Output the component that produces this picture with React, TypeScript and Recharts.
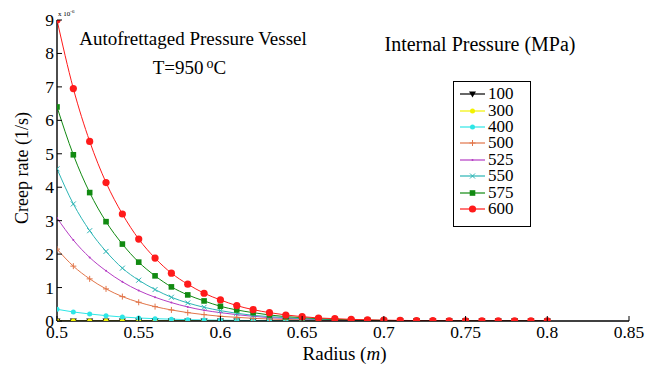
import React from "react";
import { Legend, Line, LineChart, XAxis, YAxis } from "recharts";

const FONT = "'Liberation Serif', 'Times New Roman', serif";

// radius (m), one point every 0.01
const radius = [
  0.5, 0.51, 0.52, 0.53, 0.54, 0.55, 0.56, 0.57, 0.58, 0.59, 0.6, 0.61, 0.62, 0.63, 0.64, 0.65,
  0.66, 0.67, 0.68, 0.69, 0.7, 0.71, 0.72, 0.73, 0.74, 0.75, 0.76, 0.77, 0.78, 0.79, 0.8,
];

// creep rate in units of 1e-6 1/s, per internal pressure (MPa)
const p100 = [
  0, 0, 0, 0, 0, 0, 0, 0, 0, 0, 0, 0, 0, 0, 0, 0, 0, 0, 0, 0, 0, 0, 0, 0, 0, 0, 0, 0, 0, 0, 0,
];
const p300 = [
  0, 0, 0, 0, 0, 0, 0, 0, 0, 0, 0, 0, 0, 0, 0, 0, 0, 0, 0, 0, 0, 0, 0, 0, 0, 0, 0, 0, 0, 0, 0,
];
const p400 = [
  0.35, 0.27, 0.21, 0.16, 0.12, 0.09, 0.07, 0.055, 0.04, 0.03, 0.025, 0.018, 0.014, 0.01, 0.008,
  0.006, 0.005, 0.004, 0.003, 0.002, 0.0015, 0.001, 0.0008, 0.0006, 0.0005, 0.0004, 0.0003,
  0.0002, 0.0002, 0.0001, 0.0001,
];
const p500 = [
  2.15, 1.64, 1.26, 0.96, 0.73, 0.56, 0.43, 0.33, 0.25, 0.19, 0.14, 0.11, 0.08, 0.06, 0.045,
  0.035, 0.025, 0.018, 0.013, 0.01, 0.007, 0.005, 0.004, 0.003, 0.002, 0.0015, 0.001, 0.0008,
  0.0006, 0.0004, 0.0003,
];
const p525 = [
  3.08, 2.42, 1.9, 1.5, 1.17, 0.91, 0.71, 0.55, 0.42, 0.32, 0.25, 0.19, 0.14, 0.1, 0.08, 0.06,
  0.04, 0.03, 0.02, 0.015, 0.01, 0.007, 0.005, 0.004, 0.003, 0.002, 0.0015, 0.001, 0.0008,
  0.0005, 0.0003,
];
const p550 = [
  4.55, 3.5, 2.7, 2.08, 1.58, 1.22, 0.94, 0.71, 0.54, 0.41, 0.31, 0.23, 0.17, 0.13, 0.1, 0.07,
  0.05, 0.04, 0.03, 0.02, 0.015, 0.01, 0.007, 0.005, 0.004, 0.003, 0.002, 0.0015, 0.001, 0.0008,
  0.0005,
];
const p575 = [
  6.4, 4.97, 3.84, 2.97, 2.3, 1.76, 1.35, 1.02, 0.78, 0.6, 0.44, 0.33, 0.25, 0.18, 0.13, 0.1,
  0.07, 0.05, 0.035, 0.025, 0.018, 0.013, 0.009, 0.006, 0.004, 0.003, 0.002, 0.0015, 0.001,
  0.0008, 0.0005,
];
const p600 = [
  9.0, 6.95, 5.37, 4.14, 3.2, 2.45, 1.88, 1.43, 1.1, 0.83, 0.63, 0.46, 0.34, 0.25, 0.18, 0.13,
  0.09, 0.07, 0.05, 0.035, 0.025, 0.018, 0.013, 0.009, 0.007, 0.005, 0.004, 0.003, 0.002,
  0.0015, 0.001,
];

const xTicks = [0.5, 0.55, 0.6, 0.65, 0.7, 0.75, 0.8, 0.85];
const yTicks = [0, 1, 2, 3, 4, 5, 6, 7, 8, 9];

type Shape = "triangle" | "dot" | "plus" | "point" | "cross" | "square" | "circle";

const series: { key: string; name: string; values: number[]; color: string; shape: Shape }[] = [
  { key: "p100", name: "100", values: p100, color: "#000000", shape: "triangle" },
  { key: "p300", name: "300", values: p300, color: "#f2f200", shape: "dot" },
  { key: "p400", name: "400", values: p400, color: "#2ee6e6", shape: "dot" },
  { key: "p500", name: "500", values: p500, color: "#e2764a", shape: "plus" },
  { key: "p525", name: "525", values: p525, color: "#b53dc4", shape: "point" },
  { key: "p550", name: "550", values: p550, color: "#2bb5b5", shape: "cross" },
  { key: "p575", name: "575", values: p575, color: "#118a11", shape: "square" },
  { key: "p600", name: "600", values: p600, color: "#ff1a1a", shape: "circle" },
];

const data = radius.map((r, i) => {
  const row: Record<string, number> = { r };
  series.forEach((s) => (row[s.key] = s.values[i]));
  return row;
});

function Marker({ cx, cy, shape, color }: { cx: number; cy: number; shape: Shape; color: string }) {
  if (cx == null || cy == null) return null;
  switch (shape) {
    case "triangle":
      return <path d={`M${cx - 3.5},${cy - 2.5}L${cx + 3.5},${cy - 2.5}L${cx},${cy + 3.5}Z`} fill={color} />;
    case "dot":
      return <circle cx={cx} cy={cy} r={2.5} fill={color} />;
    case "plus":
      return (
        <path d={`M${cx - 3},${cy}H${cx + 3}M${cx},${cy - 3}V${cy + 3}`} stroke={color} strokeWidth={1} />
      );
    case "point":
      return <circle cx={cx} cy={cy} r={1} fill={color} />;
    case "cross":
      return (
        <path
          d={`M${cx - 2.5},${cy - 2.5}L${cx + 2.5},${cy + 2.5}M${cx - 2.5},${cy + 2.5}L${cx + 2.5},${cy - 2.5}`}
          stroke={color}
          strokeWidth={1}
        />
      );
    case "square":
      return <rect x={cx - 2.8} y={cy - 2.8} width={5.6} height={5.6} fill={color} />;
    default:
      return <circle cx={cx} cy={cy} r={3.6} fill={color} />;
  }
}

const XTickBottom = ({ x, y, payload }: any) => (
  <g>
    <line x1={x} x2={x} y1={y} y2={y - 5} stroke="#000" />
    <text x={x} y={y + 17} textAnchor="middle" fontSize={17.5} fontFamily={FONT} fill="#000">
      {payload.value}
    </text>
  </g>
);
const XTickTop = ({ x, y }: any) => <line x1={x} x2={x} y1={y} y2={y + 5} stroke="#000" />;
const YTickLeft = ({ x, y, payload }: any) => (
  <g>
    <line x1={x} x2={x + 5} y1={y} y2={y} stroke="#000" />
    <text x={x - 3} y={y + 6} textAnchor="end" fontSize={17.5} fontFamily={FONT} fill="#000">
      {payload.value}
    </text>
  </g>
);
const YTickRight = ({ x, y }: any) => <line x1={x} x2={x - 5} y1={y} y2={y} stroke="#000" />;

const renderLegend = () => (
  <div
    style={{
      width: 76,
      border: "1.3px solid #000",
      background: "#fff",
      padding: "4px 0 9px 0",
      fontFamily: FONT,
      fontSize: 17,
      color: "#000",
    }}
  >
    {series.map((s) => (
      <div key={s.key} style={{ display: "flex", alignItems: "center", height: 16.4 }}>
        <svg width={34} height={16} style={{ display: "block" }}>
          <line x1={6} x2={31} y1={8} y2={8} stroke={s.color} strokeWidth={1.2} />
          <Marker cx={18.5} cy={8} shape={s.shape} color={s.color} />
        </svg>
        <span style={{ lineHeight: "16px" }}>{s.name}</span>
      </div>
    ))}
  </div>
);

const abs = (style: React.CSSProperties): React.CSSProperties => ({
  position: "absolute",
  fontFamily: FONT,
  color: "#000",
  whiteSpace: "nowrap",
  lineHeight: 1,
  ...style,
});

export default function App() {
  return (
    <div style={{ position: "relative", width: 649, height: 359 }}>
      <LineChart width={649} height={351} data={data} margin={{ top: 12, right: 28, left: 0, bottom: 0 }}>
        <XAxis
          dataKey="r"
          type="number"
          domain={[0.5, 0.85]}
          ticks={xTicks}
          allowDataOverflow
          height={38}
          tickSize={0}
          tickMargin={0}
          tickLine={false}
          axisLine={{ stroke: "#000", strokeWidth: 1.4 }}
          tick={<XTickBottom />}
          interval={0}
        />
        <XAxis
          xAxisId="top"
          orientation="top"
          dataKey="r"
          type="number"
          domain={[0.5, 0.85]}
          ticks={xTicks}
          allowDataOverflow
          height={0}
          tickSize={0}
          tickMargin={0}
          tickLine={false}
          axisLine={{ stroke: "#000", strokeWidth: 1.4 }}
          tick={<XTickTop />}
          interval={0}
        />
        <YAxis
          type="number"
          domain={[0, 9]}
          ticks={yTicks}
          allowDataOverflow
          width={49}
          tickSize={0}
          tickMargin={0}
          tickLine={false}
          axisLine={{ stroke: "#000", strokeWidth: 1.4 }}
          tick={<YTickLeft />}
          interval={0}
        />
        <YAxis
          yAxisId="right"
          orientation="right"
          type="number"
          domain={[0, 9]}
          ticks={yTicks}
          allowDataOverflow
          width={0}
          tickSize={0}
          tickMargin={0}
          tickLine={false}
          axisLine={{ stroke: "#000", strokeWidth: 1.4 }}
          tick={<YTickRight />}
          interval={0}
        />
        <Legend
          layout="vertical"
          align="center"
          verticalAlign="middle"
          content={renderLegend}
          wrapperStyle={{ left: 445, top: 73, bottom: "auto", right: "auto", width: "auto", height: "auto" }}
        />
        {series.map((s) => (
          <Line
            key={s.key}
            dataKey={s.key}
            name={s.name}
            type="monotone"
            stroke={s.color}
            strokeWidth={1}
            isAnimationActive={false}
            activeDot={false}
            dot={(p: any) => <Marker key={`${s.key}-${p.index}`} cx={p.cx} cy={p.cy} shape={s.shape} color={s.color} />}
          />
        ))}
      </LineChart>

      <div style={abs({ left: 50, top: 1, fontSize: 7 })}>
        x 10<sup style={{ fontSize: 5 }}>-6</sup>
      </div>
      <div style={abs({ left: 185, top: 30, fontSize: 19, transform: "translate(-50%, -50%)" })}>
        Autofrettaged Pressure Vessel
      </div>
      <div style={abs({ left: 181.5, top: 59, fontSize: 19, transform: "translate(-50%, -50%)" })}>
        T=950<sup style={{ fontSize: 14, verticalAlign: "6px", marginLeft: 3 }}>o</sup>C
      </div>
      <div style={abs({ left: 472, top: 36, fontSize: 20, transform: "translate(-50%, -50%)" })}>
        Internal Pressure (MPa)
      </div>
      <div style={abs({ left: 14, top: 160, fontSize: 18, transform: "translate(-50%, -50%) rotate(-90deg)" })}>
        Creep rate (1/s)
      </div>
      <div style={abs({ left: 336.5, top: 345, fontSize: 19, transform: "translate(-50%, -50%)" })}>
        Radius (<i>m</i>)
      </div>
    </div>
  );
}
